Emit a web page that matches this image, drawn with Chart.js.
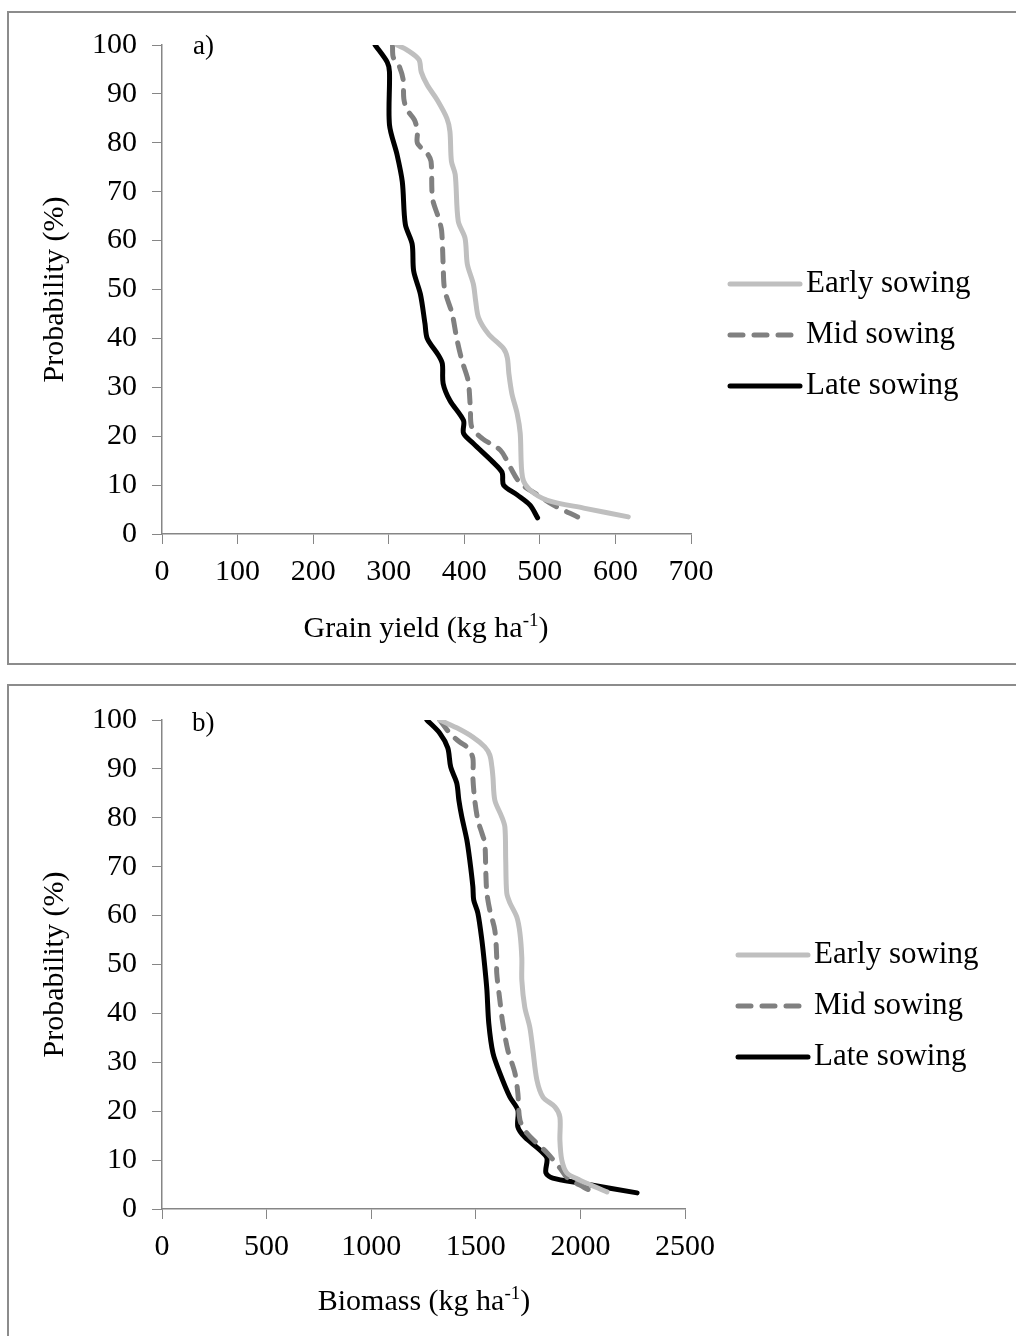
<!DOCTYPE html>
<html>
<head>
<meta charset="utf-8">
<script src="https://cdn.jsdelivr.net/npm/chart.js@4.4.1/dist/chart.umd.min.js"></script>
<style>
  body { margin: 0; background: #fff; width: 1016px; height: 1336px; overflow: hidden; position: relative; }
  .panel { position: absolute; left: 7px; width: 1100px; border: 2px solid #8c8c8c; box-sizing: border-box; }
  canvas { position: absolute; left: 8px; }
</style>
</head>
<body>
<div class="panel" style="top:11px;height:654px"></div>
<div class="panel" style="top:684px;height:660px"></div>
<canvas id="chartA" width="1008" height="652" style="top:12px;width:1008px;height:652px"></canvas>
<canvas id="chartB" width="1008" height="651" style="top:685px;width:1008px;height:651px"></canvas>
<script>
// series names
const seriesNames = ['Early sowing', 'Mid sowing', 'Late sowing'];

// a) grain yield (kg/ha) vs probability (%)
const earlyYieldP = [100, 99, 97, 94.5, 91.8, 88.8, 85, 82.3, 76.2, 73.5, 64, 60.5, 55.2, 51.1, 47.7, 44.2, 40.9, 37.9, 36, 32.8, 28.7, 24.6, 20.6, 11.6, 9, 6.9, 5.3, 3.5];
const earlyYieldX = [311, 324, 340, 343, 351, 364, 377, 381, 383, 388, 392, 401, 404, 412, 415, 419, 432, 452, 457, 459, 463, 470, 474, 477, 487, 510, 558, 617];
const midYieldP = [100, 97.5, 96, 93, 89, 86.8, 84.7, 82.3, 79.9, 77.8, 76.2, 68.6, 64.6, 62, 55.2, 50, 45, 40, 35.4, 31.4, 25.9, 21.8, 19.5, 17.1, 13.6, 10.4, 8, 5.9, 3.5];
const midYieldX = [305, 306, 313, 319, 320, 324, 334, 338, 338, 351, 356, 358, 366, 370, 372, 374, 384, 390, 397, 405, 408, 410, 424, 448, 461, 474, 497, 518, 550];
const lateYieldP = [100, 96.5, 94.5, 83.7, 77.6, 72, 63.3, 59.3, 53.8, 49, 43, 40, 36.5, 34.8, 30.8, 27.3, 23.2, 20.6, 18.5, 14.7, 12.6, 10, 8, 5.9, 3.3];
const lateYieldX = [282, 298, 301, 301, 311, 318, 322, 331, 333, 342, 348, 351, 366, 371, 372, 381, 399, 399, 412, 438, 450, 452, 470, 487, 497];

// b) biomass (kg/ha) vs probability (%)
const earlyBioP = [100, 98.4, 96.5, 94.5, 92.8, 90.4, 88.3, 83.6, 80.2, 78.1, 71.4, 64.6, 62.6, 59.7, 56.4, 51.3, 46.8, 41.3, 37.2, 32.5, 26.4, 22.9, 20.9, 18.8, 14.1, 10, 7.4, 5.9, 3.5];
const earlyBioX = [1328, 1409, 1486, 1543, 1567, 1577, 1582, 1591, 1624, 1639, 1643, 1648, 1663, 1696, 1711, 1720, 1720, 1734, 1758, 1773, 1792, 1821, 1878, 1902, 1902, 1911, 1935, 1998, 2127];
const midBioP = [100, 97.3, 95.5, 94.3, 92.2, 88.3, 83.6, 79.5, 76.9, 74.8, 68.7, 64.6, 61.1, 57, 51.5, 48.3, 42.7, 38, 32.5, 27.8, 23.7, 18.2, 15.5, 11.5, 8.4, 6.5, 4.5, 3.3];
const midBioX = [1328, 1376, 1423, 1462, 1486, 1486, 1495, 1510, 1529, 1543, 1548, 1553, 1567, 1591, 1600, 1600, 1615, 1629, 1653, 1687, 1701, 1711, 1744, 1840, 1902, 1935, 2014, 2071];
const lateBioP = [100, 97.3, 94.3, 90.4, 87.1, 83.6, 80.2, 75.5, 71.4, 65.9, 63.2, 60.5, 55, 49.5, 44.8, 38, 31.9, 27.8, 22.9, 20.2, 16.8, 14.7, 12.1, 10.4, 7.4, 6.3, 5.3, 3.3];
const lateBioX = [1266, 1328, 1366, 1380, 1409, 1419, 1433, 1457, 1471, 1486, 1490, 1510, 1529, 1543, 1553, 1562, 1582, 1615, 1663, 1701, 1701, 1734, 1806, 1840, 1835, 1868, 1998, 2271];

const FONT = 'Liberation Serif, Times New Roman, serif';
const AXIS_GREY = '#868686';

function toPoints(xs, ps) {
  return xs.map((x, i) => ({ x: x, y: ps[i] }));
}

function lineSet(label, xs, ps, color, dash) {
  return {
    label: label,
    data: toPoints(xs, ps),
    showLine: true,
    borderColor: color,
    backgroundColor: color,
    borderWidth: 5,
    borderDash: dash,
    borderCapStyle: 'round',
    borderJoinStyle: 'round',
    pointRadius: 0,
    tension: 0.3
  };
}

// draws the panel letter, the legend on the right and the x title with superscript
const extrasPlugin = {
  id: 'extras',
  afterDraw(chart, args, opts) {
    const ctx = chart.ctx;
    ctx.save();
    ctx.fillStyle = '#000';
    ctx.textBaseline = 'middle';
    ctx.textAlign = 'left';

    ctx.font = '27px ' + FONT;
    ctx.fillText(opts.panel, opts.panelX, opts.panelY);

    // legend
    chart.data.datasets.forEach((ds, i) => {
      const y = opts.legendY + i * 51;
      ctx.beginPath();
      ctx.strokeStyle = ds.borderColor;
      ctx.lineWidth = 5;
      ctx.lineCap = 'round';
      ctx.setLineDash(ds.borderDash || []);
      ctx.moveTo(opts.legendX, y);
      ctx.lineTo(opts.legendX + 70, y);
      ctx.stroke();
      ctx.setLineDash([]);
      ctx.font = '31px ' + FONT;
      ctx.fillText(ds.label, opts.legendX + 76, y);
    });

    // x axis title: "... (kg ha" + superscript "-1" + ")"
    const base = opts.xTitle;
    ctx.font = '30px ' + FONT;
    const w1 = ctx.measureText(base).width;
    const w3 = ctx.measureText(')').width;
    ctx.font = '19px ' + FONT;
    const w2 = ctx.measureText('-1').width;
    let x = opts.xTitleX - (w1 + w2 + w3) / 2;
    ctx.textBaseline = 'alphabetic';
    ctx.font = '30px ' + FONT;
    ctx.fillText(base, x, opts.xTitleY);
    x += w1;
    ctx.font = '19px ' + FONT;
    ctx.fillText('-1', x, opts.xTitleY - 11);
    x += w2;
    ctx.font = '30px ' + FONT;
    ctx.fillText(')', x, opts.xTitleY);
    ctx.restore();
  }
};

function makeChart(id, datasets, xMax, xStep, geo) {
  return new Chart(document.getElementById(id), {
    type: 'scatter',
    data: { datasets: datasets },
    plugins: [extrasPlugin],
    options: {
      responsive: false,
      animation: false,
      layout: { padding: { top: geo.top, right: geo.right, bottom: 0, left: 0 } },
      plugins: {
        legend: { display: false },
        tooltip: { enabled: false },
        extras: geo.extras
      },
      scales: {
        x: {
          type: 'linear',
          min: 0,
          max: xMax,
          afterFit: (s) => { s.height = geo.xHeight; },
          grid: { display: true, drawOnChartArea: false, drawTicks: true, tickLength: 10, color: AXIS_GREY },
          border: { display: true, color: AXIS_GREY, width: 1.5 },
          ticks: { stepSize: xStep, autoSkip: false, maxRotation: 0, padding: 10, color: '#000',
                   font: { family: FONT, size: 30 }, callback: (v) => String(v) }
        },
        y: {
          type: 'linear',
          min: 0,
          max: 100,
          afterFit: (s) => { s.width = 154; },
          grid: { display: true, drawOnChartArea: false, drawTicks: true, tickLength: 10, color: AXIS_GREY },
          border: { display: true, color: AXIS_GREY, width: 1.5 },
          ticks: { stepSize: 10, padding: 15, color: '#000', font: { family: FONT, size: 30 },
                   callback: (v) => String(v) },
          title: { display: true, text: 'Probability (%)', color: '#000', font: { family: FONT, size: 30 }, padding: { top: 29, bottom: 0 } }
        }
      }
    }
  });
}

makeChart('chartA', [
  lineSet(seriesNames[0], earlyYieldX, earlyYieldP, '#BFBFBF', []),
  lineSet(seriesNames[1], midYieldX, midYieldP, '#808080', [13, 11]),
  lineSet(seriesNames[2], lateYieldX, lateYieldP, '#000000', [])
], 700, 100, {
  top: 31, right: 325, xHeight: 130,
  extras: { panel: 'a)', panelX: 185, panelY: 35, legendX: 722, legendY: 272,
            xTitle: 'Grain yield (kg ha', xTitleX: 418, xTitleY: 625 }
});

makeChart('chartB', [
  lineSet(seriesNames[0], earlyBioX, earlyBioP, '#BFBFBF', []),
  lineSet(seriesNames[1], midBioX, midBioP, '#808080', [13, 11]),
  lineSet(seriesNames[2], lateBioX, lateBioP, '#000000', [])
], 2500, 500, {
  top: 35, right: 331, xHeight: 127,
  extras: { panel: 'b)', panelX: 184, panelY: 39, legendX: 730, legendY: 270,
            xTitle: 'Biomass (kg ha', xTitleX: 416, xTitleY: 625 }
});
</script>
</body>
</html>
